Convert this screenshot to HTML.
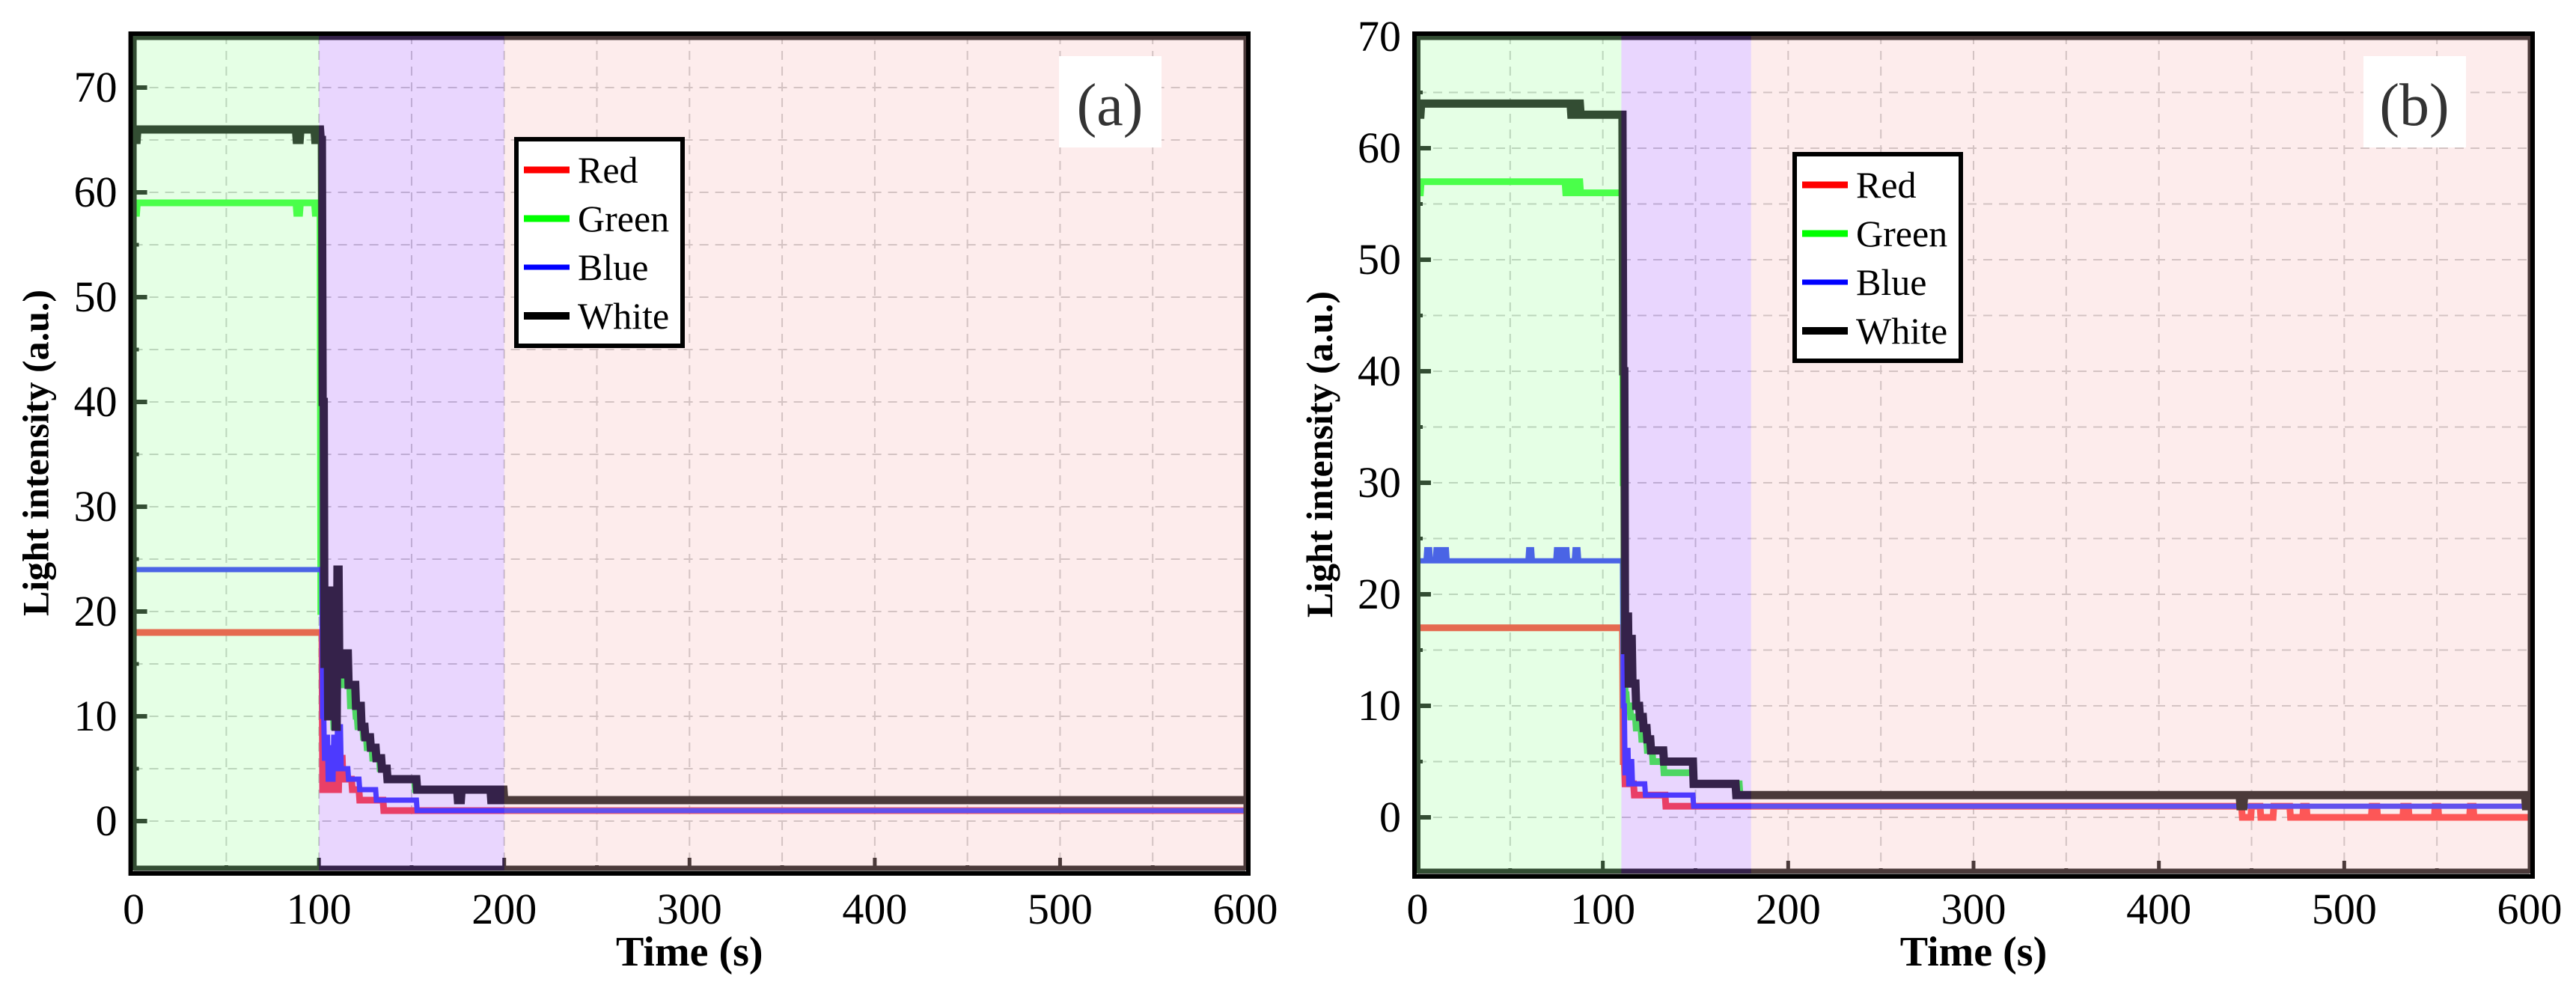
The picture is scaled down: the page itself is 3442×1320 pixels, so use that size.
<!DOCTYPE html>
<html><head><meta charset="utf-8">
<style>
html,body{margin:0;padding:0;background:#fff;}
svg{display:block;font-family:"Liberation Serif",serif;}
</style></head>
<body>
<svg id="chart" width="3442" height="1320" viewBox="0 0 3442 1320" xmlns="http://www.w3.org/2000/svg"></svg>
<script>
// ---------- data (panel a) ----------
const seriesNames = ["Red","Green","Blue","White"];
const xTicks = [0,100,200,300,400,500,600];
const yTicksA = [0,10,20,30,40,50,60,70];
const yTicksB = [0,10,20,30,40,50,60,70];
const phasesA = [0,100,200,600];
const phasesB = [0,110,180,600];

const redTA = [0,100,102,104,106,108,110,111,113,118,122,135,600];
const redVA = [18,18,3,5,3,4,3,6,4,3,2,1,1];
const blueTA = [0,100,102,103,104,105,106,107,108,109,110,112,116,122,131,153,600];
const blueVA = [24,24,10,6,8,4,7,4,8,5,9,5,4,3,2,1,1];
const greenTA = [0,2,88,90,98,100,101,103,105,107,108,109,110,111,113,117,120,121,124,126,129,133,137,152,200,600];
const greenVA = [58,59,58,59,58,59,20,12,10,11,9,12,14,16,13,11,10,9,8,7,6,5,4,3,2,2];
const whiteTA = [0,2,88,90,98,100,101,102,103,104,105,106,107,108,109,110,111,112,116,120,123,125,128,131,134,137,153,175,177,193,195,196,198,200,600];
const whiteVA = [65,66,65,66,65,66,65,40,15,22,10,20,12,22,9,24,14,16,13,11,9,8,7,6,5,4,3,2,3,2,3,2,3,2,2];

// ---------- data (panel b) ----------
const redTB = [0,110,111,112,113,114,117,134,445,450,455,462,471,478,480,515,518,532,535,549,551,568,570,600];
const redVB = [17,17,5,3,4,3,2,1,0,1,0,1,0,1,0,1,0,1,0,1,0,1,0,0];
const blueTB = [0,5,7,10,12,14,16,60,62,75,77,79,81,85,87,110,111,112,113,114,115,116,123,149,600];
const blueVB = [23,24,23,24,23,24,23,24,23,24,23,24,23,24,23,23,10,4,6,3,5,3,2,1,1];
const greenTB = [0,2,80,82,84,86,88,110,111,112,113,115,118,121,124,127,133,149,174,600];
const greenVB = [56,57,56,57,56,57,56,56,30,11,10,9,8,7,6,5,4,3,2,2];
const whiteTB = [0,2,83,85,88,110,111,112,113,114,115,116,118,120,122,124,126,133,149,172,444,446,598,600];
const whiteVB = [63,64,63,64,63,63,40,15,18,12,16,12,10,9,8,7,6,5,3,2,1,2,1,2];

const NS="http://www.w3.org/2000/svg";
const svg=document.getElementById('chart');
function mk(tag,attrs,parent){const e=document.createElementNS(NS,tag);for(const k in attrs)e.setAttribute(k,attrs[k]);(parent||svg).appendChild(e);return e;}

function drawPanel(p){
  const g=mk('g',{});
  
  
  const X=t=>p.x0+(t-0)*(p.x1-p.x0)/600;
  const Y=v=>p.yZero-v*p.yPer;
  const L=p.x0, R=p.x1, T=p.top, B=p.bottom;
  for(let t=50;t<600;t+=50){
    const l=mk('line',{x1:X(t),x2:X(t),y1:T,y2:B,stroke:'#c4c4c4','stroke-width':2,'stroke-dasharray':'12,9'},g);
    
    
  }
  for(let v=-5;v<=75;v+=5){
    const y=Y(v); if(y<=T+2||y>=B-2)continue;
    const l=mk('line',{x1:L,x2:R,y1:y,y2:y,stroke:'#c4c4c4','stroke-width':2,'stroke-dasharray':'12,9'},g);
    
    
  }
  const series=[
    {n:'white',T:p.wT,V:p.wV,c:'#000000',w:11},
    {n:'green',T:p.gT,V:p.gV,c:'#22ff22',w:9},
    {n:'blue',T:p.bT,V:p.bV,c:'#2222ff',w:7},
    {n:'red',T:p.rT,V:p.rV,c:'#ff2a2a',w:9}];
  const order=[series[3],series[1],series[2],series[0]];
  order.forEach(s=>{
    let d='';
    for(let i=0;i<s.T.length;i++){
      const x=X(s.T[i]), y=Y(s.V[i]);
      if(i===0) d+='M'+x+' '+y;
      else { d+=' L'+(x-1)+' '+Y(s.V[i-1])+' L'+x+' '+y; }
    }
    const pth=mk('path',{d:d,fill:'none',stroke:s.c,'stroke-width':s.w,'stroke-linejoin':'miter'},g);
    
    
  });
  yTicksA.forEach(v=>{
    const y=Y(v);
    mk('line',{x1:L,x2:L+18,y1:y,y2:y,stroke:'#000','stroke-width':6},g);
    if(v+5<=70){mk('line',{x1:L,x2:L+7,y1:Y(v+5),y2:Y(v+5),stroke:'#000','stroke-width':5},g);}
  });
  for(let t=0;t<=600;t+=50){
    const len=(t%100===0)?17:7;
    mk('line',{x1:X(t),x2:X(t),y1:B,y2:B-len,stroke:'#000','stroke-width':5},g);
  }
  mk('line',{x1:L,x2:L,y1:T,y2:B,stroke:'#000','stroke-width':8},g);
  mk('line',{x1:L,x2:R,y1:B-3,y2:B-3,stroke:'#000','stroke-width':7},g);
  mk('line',{x1:L,x2:R,y1:T+3,y2:T+3,stroke:'#000','stroke-width':7},g);
  mk('line',{x1:R,x2:R,y1:T,y2:B,stroke:'#000','stroke-width':5},g);
  const cols=[['#aaffaa',0.30,'stabilization-phase-shade'],['#b474fc',0.295,'transition-phase-shade'],['#f7c1c1',0.30,'steady-phase-shade']];
  for(let i=0;i<3;i++){
    const x0=i===0?L-3:X(p.ph[i]), x1=i===2?R+3:X(p.ph[i+1]);
    const r=mk('rect',{x:x0,y:T,width:x1-x0,height:B-T,fill:cols[i][0],'fill-opacity':cols[i][1]},g);
    
    
  }
  const fr=mk('rect',{x:L-4,y:T-2,width:R-L+8,height:B-T+6,fill:'none',stroke:'#000','stroke-width':6},g);
  
  
  yTicksA.forEach(v=>{
    if(Y(v)<T)return;
    const t=mk('text',{x:L-22,y:Y(v)+19,'font-size':58,'text-anchor':'end',fill:'#000'},g);
    t.textContent=v;
    
    
  });
  xTicks.forEach(v=>{
    const t=mk('text',{x:X(v),y:1234,'font-size':58,'text-anchor':'middle',fill:'#000'},g);
    t.textContent=v;
    
    
  });
  const xt=mk('text',{x:(L+R)/2,y:1290,'font-size':56,'font-weight':'bold','text-anchor':'middle'},g);
  xt.textContent='Time (s)';
  
  
  const yt=mk('text',{x:0,y:0,'font-size':50,'font-weight':'bold','text-anchor':'middle',transform:'translate('+(L-114)+','+((T+B)/2)+') rotate(-90)'},g);
  yt.textContent='Light intensity (a.u.)';
  
  
  const lg=mk('g',{},g);
  
  
  mk('rect',{x:p.lx,y:p.ly,width:222,height:276,fill:'#fff',stroke:'#000','stroke-width':6},lg);
  const lc=['#ff0000','#00ff00','#0000ff','#000000'];
  const lw=[9,9,7,10];
  seriesNames.forEach((n,i)=>{
    const yy=p.ly+41+i*65;
    const e=mk('g',{},lg);
    
    
    mk('line',{x1:p.lx+10,x2:p.lx+71,y1:yy,y2:yy,stroke:lc[i],'stroke-width':lw[i]},e);
    const t=mk('text',{x:p.lx+82,y:yy+17,'font-size':50,fill:'#000'},e);
    t.textContent=n;
  });
  const pl=mk('g',{},g);
  
  
  mk('rect',{x:p.px,y:75,width:137,height:122,fill:'#fff'},pl);
  const pt=mk('text',{x:p.px+68,y:167,'font-size':80,'text-anchor':'middle',fill:'#333'},pl);
  pt.textContent=p.label;
}

drawPanel({name:'panel-a',x0:178.6,x1:1664,top:47,bottom:1163,yZero:1097,yPer:14,ph:phasesA,
  rT:redTA,rV:redVA,gT:greenTA,gV:greenVA,bT:blueTA,bV:blueVA,wT:whiteTA,wV:whiteVA,
  lx:690,ly:186,px:1415,label:'(a)'});
drawPanel({name:'panel-b',x0:1894,x1:3380,top:47,bottom:1167,yZero:1092,yPer:14.9,ph:phasesB,
  rT:redTB,rV:redVB,gT:greenTB,gV:greenVB,bT:blueTB,bV:blueVB,wT:whiteTB,wV:whiteVB,
  lx:2398,ly:206,px:3158,label:'(b)'});
</script>
</body></html>
